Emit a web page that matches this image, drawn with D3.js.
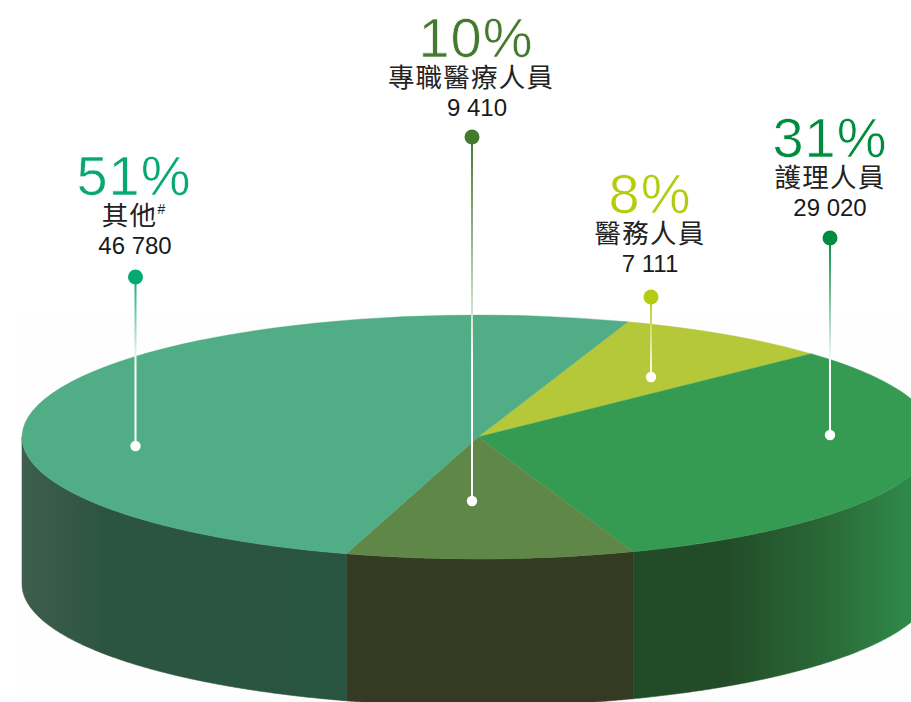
<!DOCTYPE html>
<html>
<head>
<meta charset="utf-8">
<script src="https://cdn.jsdelivr.net/npm/d3@7"></script>
<style>
body { margin: 0; background: #fff; }
svg { display: block; }
.pct { font-family: "Liberation Sans", sans-serif; font-size: 56px; letter-spacing: 1px; text-anchor: middle; stroke: #fff; stroke-width: 0.7px; }
.name { font-family: "Noto Sans CJK TC", sans-serif; font-size: 26.5px; letter-spacing: 1.2px; fill: #222; text-anchor: middle; }
.val { font-family: "Liberation Sans", sans-serif; font-size: 24px; fill: #1a1a1a; text-anchor: middle; }
</style>
</head>
<body>
<script>
// data, in the clockwise order of the pie
var categories = ['醫務人員', '護理人員', '專職醫療人員', '其他'];
var values = [7111, 29020, 9410, 46780];
var percents = ['8%', '31%', '10%', '51%'];

// styles
var topColors = ['#b5c83a', '#369b52', '#5f8747', '#50ad85'];
var labelColors = ['#b3cc10', '#008c3e', '#437a2e', '#07a873'];
var wallStops = [
  ['#b5c83a', '#b5c83a'],
  ['#224c27', '#224c27', '#2a6636', '#2f8a4a'],
  ['#343b22', '#343b22'],
  ['#3f5e4d', '#2c5540', '#2b5540', '#2a5540', '#27553f']
];

// label placement: text x / pct baseline / leader x, dot y, end y
var labelX = [651, 830, 472, 135.5];
var textX = [650, 830, 471, 134];
var pctY = [213, 157, 57, 195];
var dotY = [297, 238, 137, 277];
var endY = [377, 435, 501, 446];

var width = 911, height = 702;
var cx = 478, cy = 437, rx = 456, ry = 122, depth = 147;

var svg = d3.select('body').append('svg')
  .attr('width', width)
  .attr('height', height);

var defs = svg.append('defs');

// very faint haze behind the disc, as in the scan
svg.append('rect')
  .attr('x', cx - rx)
  .attr('y', cy - ry)
  .attr('width', width - cx + rx)
  .attr('height', height - cy + ry)
  .attr('fill', '#fdfefd');

var pie = d3.pie()
  .sort(null)
  .startAngle(19.2 * Math.PI / 180)
  .endAngle(379.2 * Math.PI / 180);

var slices = pie(values);

var xAt = function(a) { return cx + rx * Math.sin(a); };
var yAt = function(a) { return cy - ry * Math.cos(a); };

var wall = d3.area()
  .x(function(a) { return xAt(a); })
  .y0(function(a) { return yAt(a); })
  .y1(function(a) { return yAt(a) + depth; });

// side walls: only the front half of the disc shows
slices.forEach(function(s, i) {
  var a0 = Math.max(s.startAngle, Math.PI / 2);
  var a1 = Math.min(s.endAngle, Math.PI * 1.5);
  if (a1 <= a0) return;

  var xs = [xAt(a0), xAt(a1)];
  var grad = defs.append('linearGradient')
    .attr('id', 'wall' + i)
    .attr('gradientUnits', 'userSpaceOnUse')
    .attr('x1', d3.min(xs))
    .attr('x2', i == 1 ? width : d3.max(xs))
    .attr('y1', 0)
    .attr('y2', 0);

  wallStops[i].forEach(function(c, k) {
    grad.append('stop')
      .attr('offset', k / (wallStops[i].length - 1))
      .attr('stop-color', c);
  });

  var angles = d3.range(a0, a1, 0.005).concat([a1]);
  svg.append('path')
    .attr('d', wall(angles))
    .attr('fill', 'url(#wall' + i + ')')
    .attr('stroke', 'url(#wall' + i + ')')
    .attr('stroke-width', 0.6);
});

// top of the disc
var arc = d3.arc().innerRadius(0).outerRadius(rx);

svg.append('g')
  .attr('transform', 'translate(' + cx + ',' + cy + ') scale(1,' + (ry / rx) + ')')
  .selectAll('path')
  .data(slices)
  .enter().append('path')
  .attr('d', arc)
  .attr('fill', function(d, i) { return topColors[i]; })
  .attr('stroke', function(d, i) { return topColors[i]; })
  .attr('stroke-width', 0.6);

// leaders
categories.forEach(function(c, i) {
  var grad = defs.append('linearGradient')
    .attr('id', 'lead' + i)
    .attr('gradientUnits', 'userSpaceOnUse')
    .attr('x1', 0).attr('x2', 0)
    .attr('y1', dotY[i])
    .attr('y2', Math.min(endY[i], Math.max(dotY[i] + 80, cy - ry + 50)));
  grad.append('stop').attr('offset', 0).attr('stop-color', labelColors[i]);
  grad.append('stop').attr('offset', 1).attr('stop-color', '#fff');

  // a plain rect so the gradient also works on a straight vertical run
  svg.append('rect')
    .attr('x', labelX[i] - 1)
    .attr('y', dotY[i])
    .attr('width', 2)
    .attr('height', endY[i] - dotY[i])
    .attr('fill', 'url(#lead' + i + ')');

  svg.append('circle')
    .attr('cx', labelX[i])
    .attr('cy', dotY[i])
    .attr('r', 7.5)
    .attr('fill', labelColors[i]);

  svg.append('circle')
    .attr('cx', labelX[i])
    .attr('cy', endY[i])
    .attr('r', 5.2)
    .attr('fill', '#fff');
});

// labels
categories.forEach(function(c, i) {
  svg.append('text')
    .attr('class', 'pct')
    .attr('x', textX[i] + (i == 2 ? 5 : 0))
    .attr('y', pctY[i])
    .attr('fill', labelColors[i])
    .text(percents[i]);

  var name = svg.append('text')
    .attr('class', 'name')
    .attr('x', textX[i])
    .attr('y', pctY[i] + 30)
    .text(c);

  if (i == 3) {
    name.append('tspan')
      .attr('dy', -11)
      .attr('font-size', 14)
      .attr('font-style', 'italic')
      .attr('font-family', 'Liberation Sans')
      .text('#');
  }

  svg.append('text')
    .attr('class', 'val')
    .attr('x', textX[i] + (i == 2 ? 6 : i == 3 ? 1 : 0))
    .attr('y', pctY[i] + 59)
    .text(d3.format(',')(values[i]).replace(',', ' '));
});
</script>
</body>
</html>
